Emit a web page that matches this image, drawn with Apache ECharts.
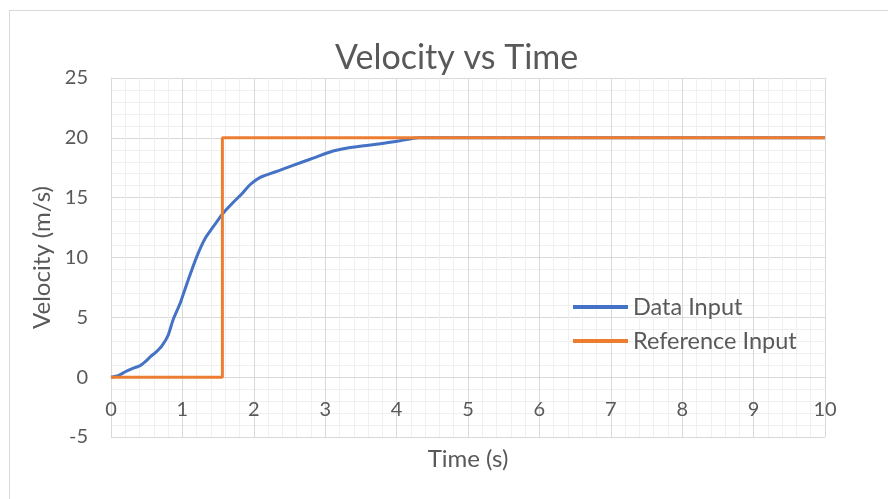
<!DOCTYPE html>
<html>
<head>
<meta charset="utf-8">
<script src="https://cdn.jsdelivr.net/npm/echarts@6/dist/echarts.min.js"></script>
<style>
html,body{margin:0;padding:0;background:#fff;overflow:hidden;}
#frame{position:absolute;left:9px;top:10px;width:900px;height:500px;border:1px solid #d9d9d9;box-sizing:border-box;}
#chart{position:absolute;left:0;top:0;width:888px;height:499px;}
</style>
</head>
<body>
<div id="frame"></div>
<div id="chart"></div>
<script>
const titleText = "Velocity vs Time";
const xAxisName = "Time (s)";
const yAxisName = "Velocity (m/s)";
const seriesNames = ["Data Input", "Reference Input"];

const dataTime = [0, 0.10, 0.20, 0.29, 0.41, 0.48, 0.55, 0.63, 0.71, 0.80, 0.87, 0.97, 1.08, 1.20, 1.32, 1.46, 1.53, 1.60, 1.71, 1.83, 1.95, 2.09, 2.37, 2.69, 2.83, 3.11, 3.35, 3.77, 4.05, 4.30, 10];
const dataVel  = [0, 0.13, 0.45, 0.70, 0.97, 1.30, 1.70, 2.10, 2.60, 3.50, 4.80, 6.20, 8.10, 10.05, 11.6, 12.8, 13.4, 13.9, 14.6, 15.3, 16.1, 16.7, 17.3, 18.0, 18.3, 18.9, 19.2, 19.5, 19.75, 20, 20];

const refTime = [0, 1.56, 1.56, 10];
const refVel  = [0, 0, 20, 20];

const xMin = 0, xMax = 10, xInterval = 1;
const yMin = -5, yMax = 25, yInterval = 5;

const font = "Lato, 'Open Sans', sans-serif";
const txt = "#595959";

const chart = echarts.init(document.getElementById('chart'), null, {renderer: 'canvas', width: 888, height: 499});
chart.setOption({
  animation: false,
  backgroundColor: 'transparent',
  title: {
    text: titleText, left: 330, top: 36,
    textStyle: {fontFamily: font, fontSize: 34, fontWeight: 'normal', color: txt}
  },
  legend: {
    orient: 'vertical', left: 568, top: 290, itemGap: 10,
    itemWidth: 55, itemHeight: 4,
    icon: 'rect',
    textStyle: {fontFamily: font, fontSize: 23.5, color: txt},
    data: seriesNames
  },
  grid: {left: 111, right: 63, top: 78, bottom: 62, containLabel: false, outerBoundsMode: 'none'},
  xAxis: {
    type: 'value', min: xMin, max: xMax, interval: xInterval,
    offset: -60,
    name: xAxisName, nameLocation: 'middle', nameGap: 70, nameMoveOverlap: false,
    nameTextStyle: {fontFamily: font, fontSize: 24, color: txt},
    axisLine: {show: true, onZero: false, lineStyle: {color: '#d9d9d9', width: 1}},
    axisTick: {show: false},
    axisLabel: {fontFamily: font, fontSize: 20, color: txt, margin: 23},
    splitLine: {show: true, lineStyle: {color: '#d9d9d9', width: 1}},
    minorTick: {show: false, splitNumber: 5},
    minorSplitLine: {show: true, lineStyle: {color: '#f0f0f0', width: 1}}
  },
  yAxis: {
    type: 'value', min: yMin, max: yMax, interval: yInterval,
    name: yAxisName, nameLocation: 'middle', nameGap: 57,
    nameTextStyle: {fontFamily: font, fontSize: 24, color: txt},
    axisLine: {show: true, onZero: false, lineStyle: {color: '#d9d9d9', width: 1}},
    axisTick: {show: false},
    axisLabel: {fontFamily: font, fontSize: 20, color: txt, margin: 23},
    splitLine: {show: true, lineStyle: {color: '#d9d9d9', width: 1}},
    minorTick: {show: false, splitNumber: 5},
    minorSplitLine: {show: true, lineStyle: {color: '#f0f0f0', width: 1}}
  },
  series: [
    {
      name: seriesNames[0], type: 'line', showSymbol: false, smooth: 0.2,
      color: '#4472C4',
      lineStyle: {width: 3, color: '#4472C4'},
      data: dataTime.map((t, i) => [t, dataVel[i]]),
      z: 2
    },
    {
      name: seriesNames[1], type: 'line', showSymbol: false,
      color: '#ED7D31',
      lineStyle: {width: 3, color: '#ED7D31'},
      data: refTime.map((t, i) => [t, refVel[i]]),
      z: 3
    }
  ]
});
</script>
</body>
</html>
